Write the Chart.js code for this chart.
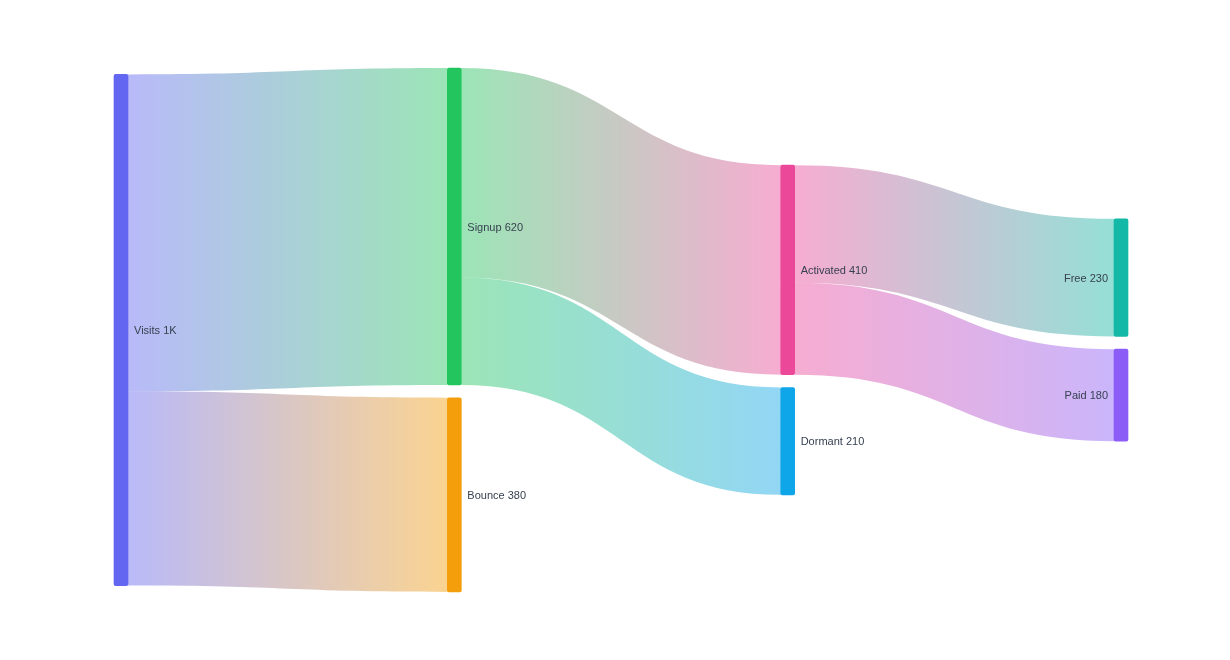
<!DOCTYPE html>
<html>
<head>
<meta charset="utf-8">
<script src="https://cdn.jsdelivr.net/npm/chart.js@4/dist/chart.umd.min.js"></script>
<style>
  body { margin: 0; background: #fff; }
  #wrap { width: 1230px; height: 660px; }
</style>
</head>
<body>
<div id="wrap"><canvas id="sankey" width="1230" height="660"></canvas></div>
<script>
// Nodes
const nodeNames = ["Visits", "Signup", "Bounce", "Activated", "Dormant", "Free", "Paid"];
const nodeColumns = [0, 1, 1, 2, 2, 3, 3];
const nodeColors = ["#6366f1", "#22c55e", "#f59e0b", "#ec4899", "#0ea5e9", "#14b8a6", "#8b5cf6"];

// Flows
const flowFrom = ["Visits", "Visits", "Signup", "Signup", "Activated", "Activated"];
const flowTo = ["Signup", "Bounce", "Activated", "Dormant", "Free", "Paid"];
const flowValues = [620, 380, 410, 210, 230, 180];

const nodeGap = 25; // value units between stacked nodes

// node sizes = max of in / out totals
const nodeValues = nodeNames.map(n => {
  let inSum = 0, outSum = 0;
  flowValues.forEach((v, i) => {
    if (flowTo[i] === n) inSum += v;
    if (flowFrom[i] === n) outSum += v;
  });
  return Math.max(inSum, outSum);
});

// stack nodes per column, centred on the tallest column
const colCount = Math.max(...nodeColumns) + 1;
const colTotals = [];
for (let c = 0; c < colCount; c++) {
  const vals = nodeValues.filter((v, i) => nodeColumns[i] === c);
  colTotals.push(vals.reduce((a, b) => a + b, 0) + nodeGap * (vals.length - 1));
}
const yMax = Math.max(...colTotals);
const nodeTop = [];
const colCursor = colTotals.map(t => (yMax - t) / 2);
nodeNames.forEach((n, i) => {
  const c = nodeColumns[i];
  nodeTop[i] = colCursor[c];
  colCursor[c] += nodeValues[i] + nodeGap;
});

function fmt(v) {
  return v >= 1000 ? (v / 1000) + "K" : String(v);
}

function withAlpha(hex, a) {
  const r = parseInt(hex.slice(1, 3), 16), g = parseInt(hex.slice(3, 5), 16), b = parseInt(hex.slice(5, 7), 16);
  return `rgba(${r},${g},${b},${a})`;
}

const NODE_W = 14;

// flows behind the nodes
const flowPlugin = {
  id: "flows",
  beforeDatasetsDraw(chart) {
    const { ctx, scales: { x, y } } = chart;
    const outOff = nodeNames.map(() => 0);
    const inOff = nodeNames.map(() => 0);
    flowValues.forEach((v, i) => {
      const s = nodeNames.indexOf(flowFrom[i]);
      const t = nodeNames.indexOf(flowTo[i]);
      const x0 = x.getPixelForValue(nodeColumns[s]) + NODE_W / 2;
      const x1 = x.getPixelForValue(nodeColumns[t]) - NODE_W / 2;
      const s0 = y.getPixelForValue(nodeTop[s] + outOff[s]);
      const s1 = y.getPixelForValue(nodeTop[s] + outOff[s] + v);
      const t0 = y.getPixelForValue(nodeTop[t] + inOff[t]);
      const t1 = y.getPixelForValue(nodeTop[t] + inOff[t] + v);
      outOff[s] += v;
      inOff[t] += v;
      const mx = (x0 + x1) / 2;
      const grad = ctx.createLinearGradient(x0, 0, x1, 0);
      grad.addColorStop(0, withAlpha(nodeColors[s], 0.45));
      grad.addColorStop(1, withAlpha(nodeColors[t], 0.45));
      ctx.save();
      ctx.beginPath();
      ctx.moveTo(x0, s0);
      ctx.bezierCurveTo(mx, s0, mx, t0, x1, t0);
      ctx.lineTo(x1, t1);
      ctx.bezierCurveTo(mx, t1, mx, s1, x0, s1);
      ctx.closePath();
      ctx.fillStyle = grad;
      ctx.fill();
      ctx.restore();
    });
  },
  afterDatasetsDraw(chart) {
    const { ctx, scales: { x, y } } = chart;
    ctx.save();
    ctx.font = "11px 'Liberation Sans', Arial, sans-serif";
    ctx.fillStyle = "#374151";
    ctx.textBaseline = "middle";
    nodeNames.forEach((n, i) => {
      const cx = x.getPixelForValue(nodeColumns[i]);
      const cy = y.getPixelForValue(nodeTop[i] + nodeValues[i] / 2) + 1;
      const label = n + " " + fmt(nodeValues[i]);
      if (nodeColumns[i] === colCount - 1) {
        ctx.textAlign = "right";
        ctx.fillText(label, cx - NODE_W / 2 - 6, cy);
      } else {
        ctx.textAlign = "left";
        ctx.fillText(label, cx + NODE_W / 2 + 6, cy);
      }
    });
    ctx.restore();
  }
};

new Chart(document.getElementById("sankey"), {
  type: "bar",
  data: {
    datasets: [{
      data: nodeNames.map((n, i) => ({ x: nodeColumns[i], y: [nodeTop[i], nodeTop[i] + nodeValues[i]] })),
      backgroundColor: nodeColors,
      barThickness: NODE_W,
      borderRadius: 2,
      borderSkipped: false,
      clip: false
    }]
  },
  options: {
    responsive: false,
    animation: false,
    layout: { padding: { left: 121, right: 109, top: 68, bottom: 68 } },
    plugins: { legend: { display: false }, tooltip: { enabled: false } },
    scales: {
      x: { type: "linear", min: 0, max: colCount - 1, offset: false, display: false },
      y: { type: "linear", min: 0, max: yMax, reverse: true, display: false }
    }
  },
  plugins: [flowPlugin]
});
</script>
</body>
</html>
